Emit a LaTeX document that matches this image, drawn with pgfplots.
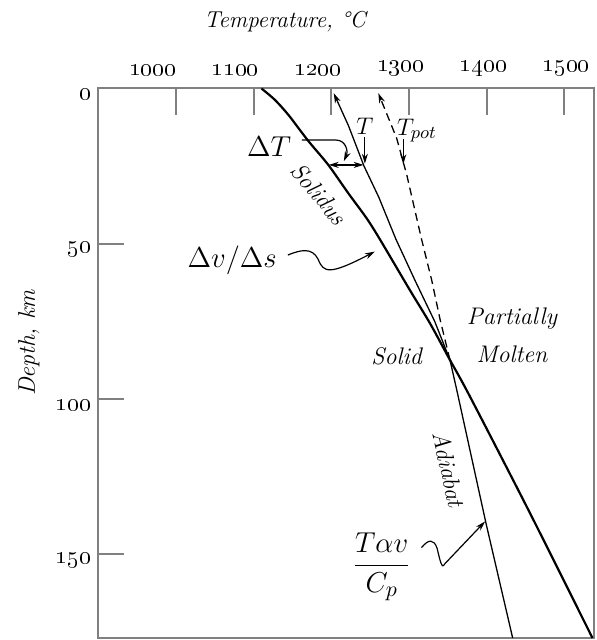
\documentclass[border=0pt]{standalone}
\usepackage{pgfplots}
\pgfplotsset{compat=1.18}
\usetikzlibrary{arrows.meta}
\begin{document}
\begin{tikzpicture}[font=\fontsize{12}{14}\selectfont\itshape,
  arr/.style={line width=0.6pt, -{Stealth[length=5pt,width=3pt]}}]
\begin{axis}[
  scale only axis, width=247.85pt, height=274.75pt,
  xmin=900, xmax=1538, ymin=0, ymax=176.9, y dir=reverse,
  xtick={1000,1100,1200,1300,1400,1500},
  xticklabels={\oldstylenums{1000},\oldstylenums{1100},\oldstylenums{1200},\oldstylenums{1300},\oldstylenums{1400},\oldstylenums{1500}},
  ytick={0,50,100,150},
  yticklabels={\oldstylenums{0},\oldstylenums{50},\oldstylenums{100},\oldstylenums{150}},
  xtick pos=upper, xticklabel pos=upper, ytick pos=left,
  tick align=inside, major tick length=13pt,
  every tick/.style={draw=gray, line width=1pt},
  axis line style={draw=gray, line width=1pt},
  xticklabel style={font=\fontsize{12.5}{14}\selectfont, yshift=2.8pt, xshift={2.5*\ticknum-11.75}},
  yticklabel style={font=\fontsize{12.5}{14}\selectfont, yshift=-3pt},
  clip=false,
]
% Solidus
\addplot[black, line width=1.1pt, smooth] coordinates {(1110,0) (1127,3.6) (1145,8.6) (1170,16.8) (1196,24.6) (1222,33.8) (1245.4,41.8) (1263,48.8) (1301,64.9) (1326.9,75.6) (1352.6,87.4) (1378.4,99.2) (1455.6,136.7) (1536,176.9)};
% Adiabat / T path
\addplot[black, line width=0.65pt, -{Stealth[length=5pt,width=3pt]}] coordinates {(1433.3,176.9) (1399,140) (1361.3,97) (1352.6,87.4) (1333,75) (1308,62) (1283,48.5) (1261,35) (1242,25) (1222,12) (1203,1.5)};
% Potential temperature (dashed)
\addplot[black, line width=0.65pt, dash pattern=on 4pt off 2.5pt, -{Stealth[length=5pt,width=3pt]}] coordinates {(1352.6,87.4) (1340,74.5) (1329,61.6) (1316,48.5) (1297,27.8) (1284,16) (1260.4,1.5)};

\coordinate (sw) at (axis cs:900,176.9);
\coordinate (ne) at (axis cs:1538,0);

% titles
\node[font=\fontsize{11.5}{13}\selectfont\itshape] at (axis cs:1140.3,-21.4) {Temperature, °C};
\node[rotate=90] at (axis cs:810.8,81.9) {Depth, km};

% annotations
\node[font=\fontsize{13.5}{15}\selectfont] at (axis cs:1119.8,18.8) {$\Delta T$};
\node[font=\fontsize{13}{15}\selectfont] at (axis cs:1243.1,12.1) {$T$};
\node[font=\fontsize{13}{15}\selectfont, anchor=base west, inner sep=0pt] at (axis cs:1284,15) {$T_{pot}$};
\draw[arr] (axis cs:1243.1,15.6) -- (axis cs:1243.1,24.2);
\draw[arr] (axis cs:1292.5,16.3) -- (axis cs:1292.5,24.4);
\draw[line width=0.6pt, {Stealth[length=5pt,width=3pt]}-{Stealth[length=5pt,width=3pt]}] (axis cs:1196.5,24.6) -- (axis cs:1241.5,24.6);
\draw[arr] (axis cs:1162,16.6) -- (axis cs:1206,16.6) .. controls (axis cs:1218,16.6) and (axis cs:1222,20) .. (axis cs:1216,23.4);

\node[rotate=-50] at (axis cs:1184,34) {Solidus};
\node[font=\fontsize{14.4}{16}\selectfont] at (axis cs:1072.4,55.2) {$\Delta v/\Delta s$};
\draw[arr] (axis cs:1144,53.6) .. controls (axis cs:1160,52) and (axis cs:1175,51) .. (axis cs:1183,55) .. controls (axis cs:1190,59.5) and (axis cs:1198,60) .. (axis cs:1256,52.5);

\node at (axis cs:1284,86.1) {Solid};
\node[align=center, font=\fontsize{12}{19}\selectfont\itshape] at (axis cs:1432.4,79.3) {Partially\\Molten};
\node[rotate=-77] at (axis cs:1351.4,122.5) {Adiabat};
\node[font=\fontsize{15.5}{18}\selectfont] at (axis cs:1264.7,154) {$\displaystyle\frac{T\alpha v}{C_p}$};
\draw[arr] (axis cs:1316,147.8) .. controls (axis cs:1325,145) and (axis cs:1332,145) .. (axis cs:1336,148) .. controls (axis cs:1340,152) and (axis cs:1342,155) .. (axis cs:1346,153) -- (axis cs:1397.7,139.4);
\end{axis}
\pgfresetboundingbox
\path ([shift={(-49.15pt,-1pt)}]sw) rectangle ([shift={(1pt,44.25pt)}]ne);
\end{tikzpicture}
\end{document}
